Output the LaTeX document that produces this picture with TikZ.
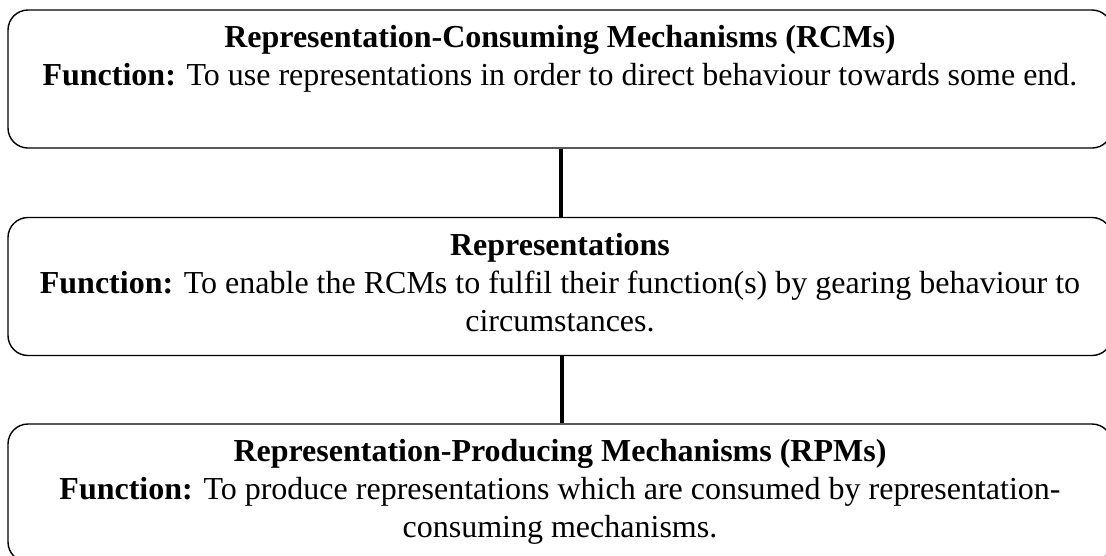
\documentclass[tikz,border=0pt]{standalone}
\usepackage{fontspec}
\setmainfont{Liberation Serif}
\begin{document}
\begin{tikzpicture}[x=1pt,y=1pt,
  boxstyle/.style={draw, line width=1.4pt, rounded corners=20pt, minimum width=1104pt, minimum height=138pt, inner sep=0pt},
  txtstyle/.style={anchor=north, align=center, inner sep=0pt, font=\fontsize{32}{38}\selectfont},
  link/.style={line width=4.5pt}]
\useasboundingbox (0,0) rectangle (1106,-555);
\node[boxstyle] (rcm) at (560,-79) {};
\node[boxstyle] (rep) at (560,-286.5) {};
\node[boxstyle] (rpm) at (560,-493) {};
\node[txtstyle] (rcmtext) at ([yshift=-16pt]rcm.north) {\textbf{Representation-Consuming Mechanisms (RCMs)}\\\textbf{Function:} To use representations in order to direct behaviour towards some end.};
\node[txtstyle] (reptext) at ([yshift=-16pt]rep.north) {\textbf{Representations}\\\textbf{Function:} To enable the RCMs to fulfil their function(s) by gearing behaviour to\\circumstances.};
\node[txtstyle] (rpmtext) at ([yshift=-16pt]rpm.north) {\textbf{Representation-Producing Mechanisms (RPMs)}\\\textbf{Function:} To produce representations which are consumed by representation-\\consuming mechanisms.};
\draw[link] ([xshift=1pt]rcm.south) -- ([xshift=1pt]rep.north);
\draw[link] ([xshift=2pt]rep.south) -- ([xshift=2pt]rpm.north);
\end{tikzpicture}
\end{document}
